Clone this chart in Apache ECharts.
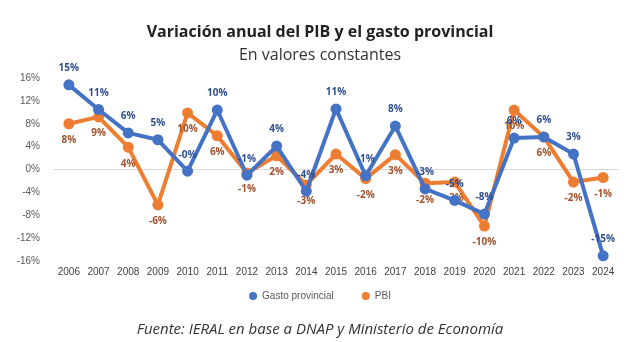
<!DOCTYPE html>
<html>
<head>
<meta charset="utf-8">
<script src="https://cdn.jsdelivr.net/npm/echarts@6/dist/echarts.min.js"></script>
<style>
  html, body { margin: 0; padding: 0; background: #fff; }
  #chart { width: 640px; height: 342px; }
</style>
</head>
<body>
<div id="chart"></div>
<script>
// Annual change, in constant values
const years = ['2006','2007','2008','2009','2010','2011','2012','2013','2014','2015','2016','2017','2018','2019','2020','2021','2022','2023','2024'];
const gastoProvincial = [14.8, 10.5, 6.4, 5.2, -0.3, 10.4, -1.0, 4.1, -3.8, 10.6, -1.1, 7.6, -3.4, -5.4, -7.8, 5.5, 5.7, 2.7, -15.1];
const pbi = [8.0, 9.2, 3.9, -6.2, 9.9, 5.9, -0.6, 2.4, -2.7, 2.7, -1.6, 2.6, -2.4, -2.2, -9.9, 10.4, 5.7, -2.2, -1.4];
const yTicks = { min: -16, max: 16, step: 4 };

const BLUE = '#4472C4';
const ORANGE = '#ED7D31';

const pct = v => Math.round(v) + '%';
const signedPct = v => {
  const r = Math.round(v);
  return (r === 0 && v < 0 ? '-0' : String(r)) + '%';
};

const chart = echarts.init(document.getElementById('chart'));
chart.setOption({
  animation: false,
  title: [
    {
      text: 'Variación anual del PIB y el gasto provincial',
      left: 'center', top: 19,
      textStyle: { fontFamily: 'Open Sans', fontWeight: 'bold', fontSize: 16, color: '#222' }
    },
    {
      text: 'En valores constantes',
      left: 'center', top: 42,
      textStyle: { fontFamily: 'Open Sans', fontWeight: 'normal', fontSize: 16, color: '#333' }
    },
    {
      text: 'Fuente: IERAL en base a DNAP y Ministerio de Economía',
      left: 'center', top: 317,
      textStyle: { fontFamily: 'Open Sans', fontStyle: 'italic', fontWeight: 'normal', fontSize: 15, color: '#333' }
    }
  ],
  legend: {
    data: ['Gasto provincial', 'PBI'],
    top: 286, left: 'center',
    icon: 'circle', itemWidth: 8, itemHeight: 8, itemGap: 28,
    textStyle: { fontFamily: 'Liberation Sans', fontSize: 10, color: '#595959' }
  },
  grid: { left: 54, right: 22, top: 78, bottom: 81 },
  xAxis: {
    type: 'category',
    data: years,
    boundaryGap: true,
    axisLine: { lineStyle: { color: '#D9D9D9', width: 1 } },
    axisTick: { show: false },
    axisLabel: { fontFamily: 'Liberation Sans', fontSize: 10, color: '#404040', margin: 6 }
  },
  yAxis: {
    type: 'value',
    min: yTicks.min, max: yTicks.max, interval: yTicks.step,
    axisLine: { show: false },
    axisTick: { show: false },
    splitLine: { show: false },
    axisLabel: { fontFamily: 'Liberation Sans', fontSize: 10, color: '#595959', margin: 14, formatter: v => v + '%' }
  },
  series: [
    {
      name: 'PBI',
      type: 'line',
      data: pbi,
      z: 2,
      symbol: 'circle', symbolSize: 11,
      lineStyle: { color: ORANGE, width: 4 },
      itemStyle: { color: ORANGE },
      label: {
        show: true, position: 'bottom', distance: 6,
        fontFamily: 'Open Sans', fontWeight: 'bold', fontSize: 10, color: '#A0522D',
        formatter: p => pct(p.value)
      }
    },
    {
      name: 'Gasto provincial',
      type: 'line',
      data: gastoProvincial,
      z: 3,
      symbol: 'circle', symbolSize: 11,
      lineStyle: { color: BLUE, width: 4 },
      itemStyle: { color: BLUE },
      label: {
        show: true, position: 'top', distance: 6,
        fontFamily: 'Open Sans', fontWeight: 'bold', fontSize: 10, color: '#2F4F8F',
        formatter: p => signedPct(p.value)
      }
    }
  ]
});
</script>
</body>
</html>
